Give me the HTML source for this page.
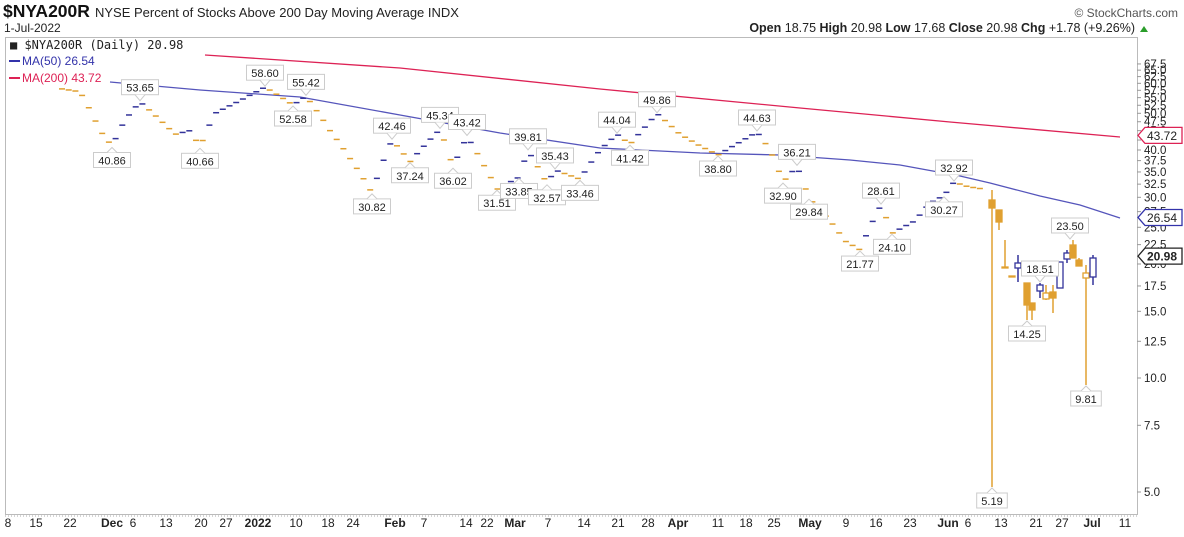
<!DOCTYPE html>
<html><head><meta charset="utf-8"><style>
body{margin:0;background:#fff;width:1184px;height:532px;overflow:hidden;font-family:"Liberation Sans",sans-serif}
</style></head><body>
<svg id="s" width="1184" height="532" xmlns="http://www.w3.org/2000/svg" font-family="Liberation Sans, sans-serif">
<text x="3" y="17" font-size="17.5" font-weight="bold" fill="#111">$NYA200R</text>
<text x="95" y="17" font-size="13" fill="#222">NYSE Percent of Stocks Above 200 Day Moving Average INDX</text>
<text x="4" y="32" font-size="12" fill="#222">1-Jul-2022</text>
<text x="1178" y="17" font-size="12" fill="#555" text-anchor="end">© StockCharts.com</text>
<text x="1135" y="32" font-size="12.5" fill="#222" text-anchor="end"><tspan font-weight="bold">Open</tspan> 18.75  <tspan font-weight="bold">High</tspan> 20.98  <tspan font-weight="bold">Low</tspan> 17.68  <tspan font-weight="bold">Close</tspan> 20.98  <tspan font-weight="bold">Chg</tspan> +1.78 (+9.26%)</text>
<polygon points="1140,32 1148,32 1144,26" fill="#2a9d2a"/>
<rect x="5.5" y="37.5" width="1132" height="477" fill="none" stroke="#bbb"/>
<line x1="5" y1="516" x2="1137" y2="516" stroke="#aaa" stroke-dasharray="1,2"/>
<text x="10" y="49" font-size="12" font-family="DejaVu Sans Mono, monospace" fill="#222">■ $NYA200R (Daily) 20.98</text>
<line x1="9" y1="61" x2="20" y2="61" stroke="#3333aa" stroke-width="2"/>
<text x="22" y="65" font-size="12" fill="#3333aa">MA(50) 26.54</text>
<line x1="9" y1="78" x2="20" y2="78" stroke="#dd2255" stroke-width="2"/>
<text x="22" y="82" font-size="12" fill="#dd2255">MA(200) 43.72</text>
<g id="g"></g>
</svg>
<script>
const g=document.getElementById('g');let h='';
const Y=v=>378-378.7*Math.log10(v/10);
for(let v=5;v<=67.5;v+=2.5){const y=Y(v);h+=`<line x1="1137" y1="${y}" x2="1141" y2="${y}" stroke="#999"/><text x="1144" y="${y+4}" font-size="11.5" fill="#222">${v.toFixed(1)}</text>`;}
const xl=[[8,'8'],[36,'15'],[70,'22'],[112,'Dec',1],[133,'6'],[166,'13'],[201,'20'],[226,'27'],[258,'2022',1],[296,'10'],[328,'18'],[353,'24'],[395,'Feb',1],[424,'7'],[466,'14'],[487,'22'],[515,'Mar',1],[548,'7'],[584,'14'],[618,'21'],[648,'28'],[678,'Apr',1],[718,'11'],[746,'18'],[774,'25'],[810,'May',1],[846,'9'],[876,'16'],[910,'23'],[948,'Jun',1],[968,'6'],[1001,'13'],[1036,'21'],[1062,'27'],[1092,'Jul',1],[1125,'11']];
xl.forEach(a=>h+=`<text x="${a[0]}" y="527" font-size="12" text-anchor="middle" fill="#222" ${a[2]?'font-weight="bold"':''}>${a[1]}</text>`);
const pl=(pts,c)=>`<polyline fill="none" stroke="${c}" stroke-width="1.3" points="${pts.map(p=>p.join(',')).join(' ')}"/>`;
h+=pl([[205,55],[400,68],[600,89],[800,108],[950,122],[1120,137]],'#dd2255');
h+=pl([[110,82],[200,90],[300,97],[400,115],[500,133],[600,148],[700,153],[780,155],[850,160],[900,165],[960,176],[990,183],[1040,196],[1080,205],[1120,218]],'#5555bb');
const kp=[[62,58],[80,57],[100,45],[112,40.9],[125,48],[140,53.6],[160,48],[175,44],[190,45],[200,40.7],[215,50],[240,54],[265,58.6],[293,52.6],[306,55.4],[330,45],[350,38],[372,30.8],[392,42.5],[410,37.2],[440,45.3],[453,36],[467,43.4],[485,36],[497,31.5],[519,33.9],[528,39.8],[547,32.6],[555,35.4],[580,33.5],[600,40],[617,44],[630,41.4],[645,46],[657,49.9],[680,44],[700,41],[718,38.8],[740,42],[757,44.6],[770,40],[783,32.9],[797,36.2],[809,29.8],[830,26],[845,23],[860,21.8],[881,28.6],[892,24.1],[915,26],[930,29],[944,30.3],[954,32.9],[968,32],[985,31.5]];
function val(x){for(let i=1;i<kp.length;i++){if(x<=kp[i][0]){const a=kp[i-1],b=kp[i];return a[1]+(b[1]-a[1])*(x-a[0])/(b[0]-a[0]);}}return 31;}
let pv=null;
for(let x=62;x<=986;x+=6.7){const v=val(x);const y=Y(v);const c=(pv!==null&&v>pv)?'#33339a':'#e0a030';h+=`<line x1="${x-3}" y1="${y}" x2="${x+3}" y2="${y}" stroke="${c}" stroke-width="1.5"/>`;pv=v;}
const O='#e0a030',B='#33339a';
const cd=[[992,200,208,190,487,O,0],[999,210,222,210,230,O,0],[1005,267,268,240,268,O,0],[1012,276,277,276,277,O,0],[1018,263,268,255,282,B,1],[1027,283,305,283,320,O,0],[1032,303,310,303,320,O,0],[1040,285,291,283,298,B,1],[1046,293,299,285,300,O,1],[1053,292,298,285,313,O,0],[1060,262,288,262,288,B,1],[1067,253,259,250,263,B,1],[1073,245,258,240,258,O,0],[1079,260,266,258,266,O,0],[1086,273,278,265,385,O,1],[1093,258,277,255,285,B,1]];
cd.forEach(c=>{h+=`<line x1="${c[0]}" y1="${c[3]}" x2="${c[0]}" y2="${c[4]}" stroke="${c[5]}" stroke-width="1.5"/>`;h+=`<rect x="${c[0]-3}" y="${c[1]}" width="6" height="${Math.max(1,c[2]-c[1])}" fill="${c[6]?'#fff':c[5]}" stroke="${c[5]}" stroke-width="1.3"/>`;});
const lb=[[140,'53.65',Y(53.65),1],[112,'40.86',Y(40.86),0],[200,'40.66',Y(40.66),0],[265,'58.60',Y(58.6),1],[306,'55.42',Y(55.42),1],[293,'52.58',Y(52.58),0],[372,'30.82',Y(30.82),0],[392,'42.46',Y(42.46),1],[410,'37.24',Y(37.24),0],[440,'45.34',Y(45.34),1],[453,'36.02',Y(36.02),0],[467,'43.42',Y(43.42),1],[497,'31.51',Y(31.51),0],[519,'33.85',Y(33.85),0],[528,'39.81',Y(39.81),1],[547,'32.57',Y(32.57),0],[555,'35.43',Y(35.43),1],[580,'33.46',Y(33.46),0],[617,'44.04',Y(44.04),1],[630,'41.42',Y(41.42),0],[657,'49.86',Y(49.86),1],[718,'38.80',Y(38.8),0],[757,'44.63',Y(44.63),1],[797,'36.21',Y(36.21),1],[783,'32.90',Y(32.9),0],[809,'29.84',Y(29.84),0],[881,'28.61',Y(28.61),1],[860,'21.77',Y(21.77),0],[892,'24.10',Y(24.1),0],[944,'30.27',Y(30.27),0],[954,'32.92',Y(32.92),1],[992,'5.19',487,0],[1027,'14.25',320,0],[1040,'18.51',283,1],[1070,'23.50',240,1],[1086,'9.81',385,0]];
lb.forEach(l=>{const x=l[0],py=l[2],w=l[1].length*6.4+5;let by=l[3]?py-22:py+6;
h+=`<rect x="${x-w/2}" y="${by}" width="${w}" height="15" fill="#fff" stroke="#ccc"/>`;
h+=l[3]?`<polyline points="${x-5},${by+15} ${x},${py-1} ${x+5},${by+15}" fill="#fff" stroke="#ccc"/>`:`<polyline points="${x-5},${by} ${x},${py+1} ${x+5},${by}" fill="#fff" stroke="#ccc"/>`;
h+=`<text x="${x}" y="${by+12}" font-size="11" text-anchor="middle" fill="#222">${l[1]}</text>`;});
const tag=(v,c,t,b)=>{const y=Y(v);h+=`<polygon points="1138,${y} 1145,${y-8} 1182,${y-8} 1182,${y+8} 1145,${y+8}" fill="#fff" stroke="${c}" stroke-width="1.3"/><text x="1147" y="${y+4.5}" font-size="12" fill="#222" ${b?'font-weight="bold"':''}>${t}</text>`;};
tag(43.72,'#dd2255','43.72');tag(26.54,'#3333aa','26.54');tag(20.98,'#222','20.98',1);
g.innerHTML=h;
</script>
</body></html>
